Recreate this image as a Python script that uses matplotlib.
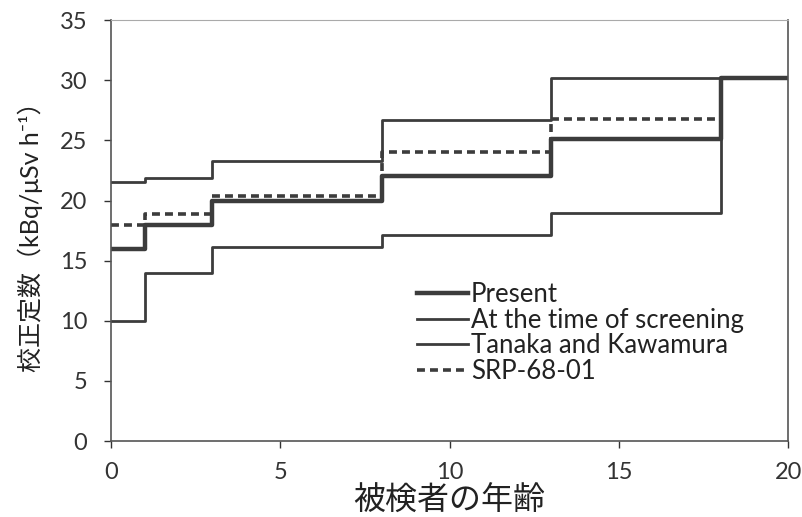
import matplotlib
matplotlib.use("Agg")
import matplotlib.pyplot as plt

plt.rcParams['font.family'] = ['Lato', 'Noto Sans CJK JP', 'DejaVu Sans']

# step boundaries (age, years) and calibration constants for each age band
ages = [0, 1, 3, 8, 13, 18, 20]
present = [16.0, 18.0, 20.0, 22.0, 25.1, 30.2]
screening = [21.5, 21.9, 23.3, 26.7, 30.2, 30.2]
tanaka = [10.0, 14.0, 16.1, 17.1, 19.0, 30.2]
srp_ages = [0, 1, 3, 8, 13, 18]
srp = [18.0, 18.9, 20.4, 24.0, 26.8]

col = '#3c3c3c'

def steps(x, y):
    xs, ys = [], []
    for i, v in enumerate(y):
        xs += [x[i], x[i + 1]]
        ys += [v, v]
    return xs, ys

fig = plt.figure(figsize=(8.02, 5.17), dpi=100)
ax = fig.add_axes([0.138, 0.147, 0.845, 0.814])

ax.plot(*steps(ages, present), color=col, lw=3.2, label='Present')
ax.plot(*steps(ages, screening), color=col, lw=2.0, label='At the time of screening')
ax.plot(*steps(ages, tanaka), color=col, lw=2.0, label='Tanaka and Kawamura')
ax.plot(*steps(srp_ages, srp), color=col, lw=2.6, ls=(0, (2.2, 1.4)), label='SRP-68-01')

ax.set_xlim(0, 20)
ax.set_ylim(0, 35)
ax.set_xticks([0, 5, 10, 15, 20])
ax.set_yticks(range(0, 36, 5))
ax.tick_params(labelsize=17, colors='#333333', direction='out', length=5, width=1)
ax.tick_params(axis='x', pad=10)
ax.tick_params(axis='y', pad=12)
for s in ['left', 'bottom', 'right']:
    ax.spines[s].set_color('#555555')
    ax.spines[s].set_linewidth(1.2)
ax.spines['top'].set_color('#aaaaaa')

ax.set_xlabel('被検者の年齢', fontsize=23, color='#222222', labelpad=2)
ax.set_ylabel('校正定数（kBq/μSv h⁻¹）', fontsize=18, color='#222222', labelpad=12)

leg = ax.legend(loc='upper left', bbox_to_anchor=(0.452, 0.378), frameon=False,
                fontsize=18.5, handlelength=2.0, handletextpad=0.1,
                labelspacing=0.03, borderaxespad=0, borderpad=0)
for t in leg.get_texts():
    t.set_color('#222222')

fig.savefig('out.png', dpi=100)
